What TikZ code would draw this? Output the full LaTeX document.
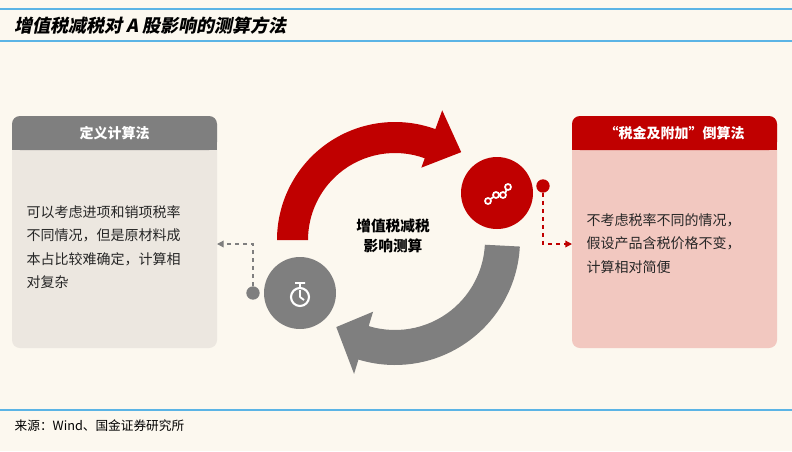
\documentclass[tikz,border=0pt]{standalone}
\usepackage{fontspec}
\setmainfont{Liberation Sans}
\newfontfamily\cjk{Noto Sans CJK SC}
\newfontfamily\cjkit{Noto Sans CJK SC}[FakeSlant=0.2]
\usetikzlibrary{arrows.meta}
\definecolor{bg}{HTML}{FCF8EF}
\definecolor{rl}{HTML}{5BB4E5}
\definecolor{myred}{HTML}{C00000}
\definecolor{mygray}{HTML}{7F7F7F}
\definecolor{lbody}{HTML}{ECE7E0}
\definecolor{rbody}{HTML}{F2C8C0}
\tikzset{
  hdr/.style={font=\cjk\bfseries\fontsize{10.5}{12}\selectfont, text=white},
  bodytxt/.style={font=\cjk\fontsize{10.5}{17.5}\selectfont, align=left, anchor=north west, text=black!85},
  dconn/.style={dashed, line width=1pt, -{Triangle[length=5pt,width=5pt]}},
}
\begin{document}
\begin{tikzpicture}[x=0.75pt,y=-0.75pt]
\useasboundingbox (0,0) rectangle (792,451);
\fill[bg] (0,0) rectangle (792,451);
\draw[rl, line width=0.8pt] (0,9) -- (792,9);
\draw[rl, line width=0.8pt] (0,41) -- (792,41);
\draw[rl, line width=0.8pt] (0,410) -- (792,410);
\node[anchor=west, font=\cjkit\bfseries\fontsize{13.5}{15}\selectfont] (title) at (10,26) {增值税减税对 A 股影响的测算方法};
\node[anchor=west, font=\cjk\fontsize{9.5}{11}\selectfont] (src) at (10,426) {来源：Wind、国金证券研究所};
% left box
\fill[lbody, rounded corners=6pt] (12,116) rectangle (217,348);
\fill[mygray, rounded corners=6pt] (12,116) rectangle (217,150);
\fill[mygray] (12,140) rectangle (217,150);
\node[hdr] (lh) at (114.5,133) {定义计算法};
\node[bodytxt] (lt) at (22,201) {可以考虑进项和销项税率\\不同情况，但是原材料成\\本占比较难确定，计算相\\对复杂};
% right box
\fill[rbody, rounded corners=6pt] (572,116) rectangle (777,348);
\fill[myred, rounded corners=6pt] (572,116) rectangle (777,150);
\fill[myred] (572,140) rectangle (777,150);
\node[hdr] (rh) at (674.5,133) {“税金及附加”倒算法};
\node[bodytxt] (rt) at (582,209) {不考虑税率不同的情况，\\假设产品含税价格不变，\\计算相对简便};
% arcs
\begin{scope}[shift={(395,240)}, x=0.75pt, y=0.75pt]
\fill[myred] (180:87) -- (180:118) arc[start angle=180,end angle=70,radius=118] -- (70:138) -- (53:110) -- (70:77) -- (70:87) arc[start angle=70,end angle=180,radius=87] -- cycle;
\fill[mygray] (-3:90) -- (-3:125) arc[start angle=-3,end angle=-107,radius=125] -- (-107:140) -- (-124:105) -- (-107:75) -- (-107:90) arc[start angle=-107,end angle=-3,radius=90] -- cycle;
\end{scope}
\node[font=\cjk\bfseries\fontsize{11}{15}\selectfont, align=center] (ctr) at (393,236) {增值税减税\\影响测算};
% circles
\node[circle, fill=myred, minimum size=54pt, inner sep=0] (rc) at (497,193) {};
\node[circle, fill=mygray, minimum size=54pt, inner sep=0] (gc) at (300,293) {};
\node[circle, fill=myred, minimum size=10pt, inner sep=0] (rd) at (543,186) {};
\node[circle, fill=mygray, minimum size=10pt, inner sep=0] (gd) at (253,293) {};
% icons
\draw[white, line width=1.3pt] (488,201) circle (3) (496,195) circle (3) (503,195) circle (3) (508,187) circle (3);
\draw[white, line width=1.3pt] (490.5,199) -- (493.5,197) (499,195) -- (500,195) (505.5,192.5) -- (506.5,190);
\draw[white, line width=1.6pt] (300,297) circle (9);
\draw[white, line width=1.4pt] (300,297) -- (300,290) (300,297) -- (304,300) (295,283) -- (305,283) (300,283) -- (300,288);
% connectors
\draw[dconn, myred] (rd) |- (572,244);
\draw[dconn, mygray] (gd) |- (217,244);
\end{tikzpicture}
\end{document}
